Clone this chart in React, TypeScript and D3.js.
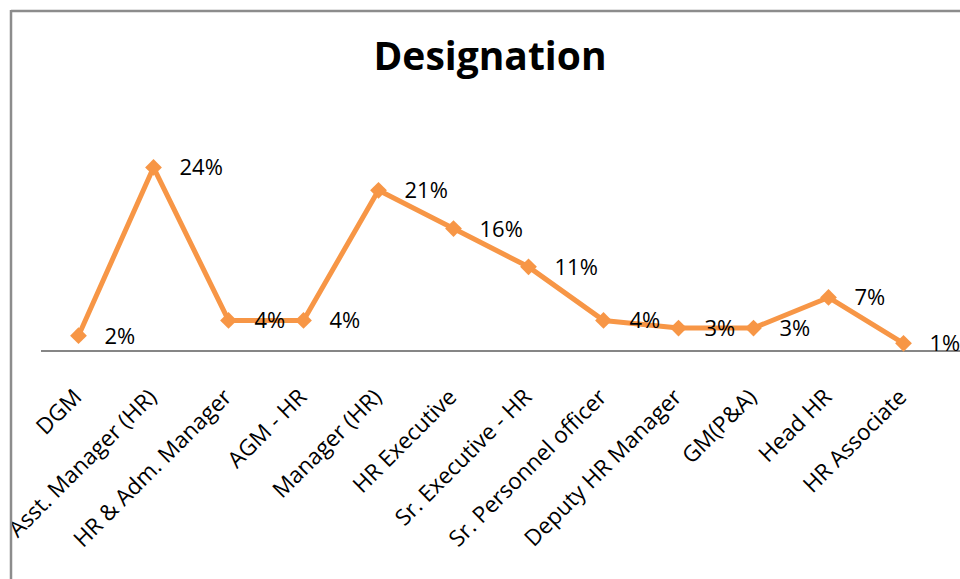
import React from "react";
import * as d3 from "d3";

const categories = [
  "DGM",
  "Asst. Manager (HR)",
  "HR & Adm. Manager",
  "AGM - HR",
  "Manager (HR)",
  "HR Executive",
  "Sr. Executive  - HR",
  "Sr. Personnel officer",
  "Deputy HR Manager",
  "GM(P&A)",
  "Head HR",
  "HR Associate",
];
const values = [2, 24, 4, 4, 21, 16, 11, 4, 3, 3, 7, 1];
const valueLabels = ["2%", "24%", "4%", "4%", "21%", "16%", "11%", "4%", "3%", "3%", "7%", "1%"];
const title = "Designation";

const W = 960;
const H = 579;
const FONT = "'Open Sans', 'Liberation Sans', sans-serif";

export default function App() {
  const plotLeft = 41;
  const band = 75;
  const x = d3
    .scaleBand<string>()
    .domain(categories)
    .range([plotLeft, plotLeft + band * categories.length]);
  const y = d3.scaleLinear().domain([0, 30]).range([351, 351 - 7.65 * 30]);
  const cx = (c: string) => (x(c) as number) + x.bandwidth() / 2;

  const line = d3
    .line<number>()
    .x((_, i) => cx(categories[i]))
    .y((d) => y(d));

  const diamond = d3.symbol().type(d3.symbolDiamond2).size(180)();

  return (
    <div style={{ position: "absolute", left: 0, top: 0, width: W, height: H, background: "#fff" }}>
      <svg width={W} height={H} style={{ display: "block" }}>
        <defs>
          <clipPath id="chartArea">
            <rect x={12} y={12} width={W} height={H} />
          </clipPath>
        </defs>
        <rect x={0} y={0} width={W} height={H} fill="#fff" />
        <g clipPath="url(#chartArea)">
          {/* title */}
          <text
            x={490}
            y={70}
            textAnchor="middle"
            fontFamily={FONT}
            fontWeight={700}
            fontSize={39}
            fill="#000"
          >
            {title}
          </text>
          {/* axis baseline */}
          <line x1={plotLeft} y1={y(0)} x2={W} y2={y(0)} stroke="#868686" strokeWidth={2} />
          {/* series line */}
          <path d={line(values) || ""} fill="none" stroke="#F79646" strokeWidth={5} strokeLinejoin="round" />
          {values.map((v, i) => (
            <path
              key={"m" + i}
              d={diamond || ""}
              transform={`translate(${cx(categories[i])},${y(v)})`}
              fill="#F79646"
            />
          ))}
          {/* data labels */}
          {values.map((v, i) => (
            <text
              key={"l" + i}
              x={cx(categories[i]) + 26}
              y={y(v)}
              dy="0.36em"
              fontFamily={FONT}
              fontSize={22}
              fill="#000"
            >
              {valueLabels[i]}
            </text>
          ))}
          {/* category labels */}
          {categories.map((c, i) => (
            <text
              key={"c" + i}
              transform={`translate(${cx(c) - 7},${387}) rotate(-45)`}
              textAnchor="end"
              dy="0.72em"
              fontFamily={FONT}
              fontSize={22.5}
              fill="#000"
            >
              {c}
            </text>
          ))}
        </g>
        {/* chart border */}
        <line x1={11} y1={11} x2={W + 5} y2={11} stroke="#8c8c8c" strokeWidth={2.5} />
        <line x1={11} y1={10} x2={11} y2={H + 5} stroke="#8c8c8c" strokeWidth={2.5} />
      </svg>
    </div>
  );
}
